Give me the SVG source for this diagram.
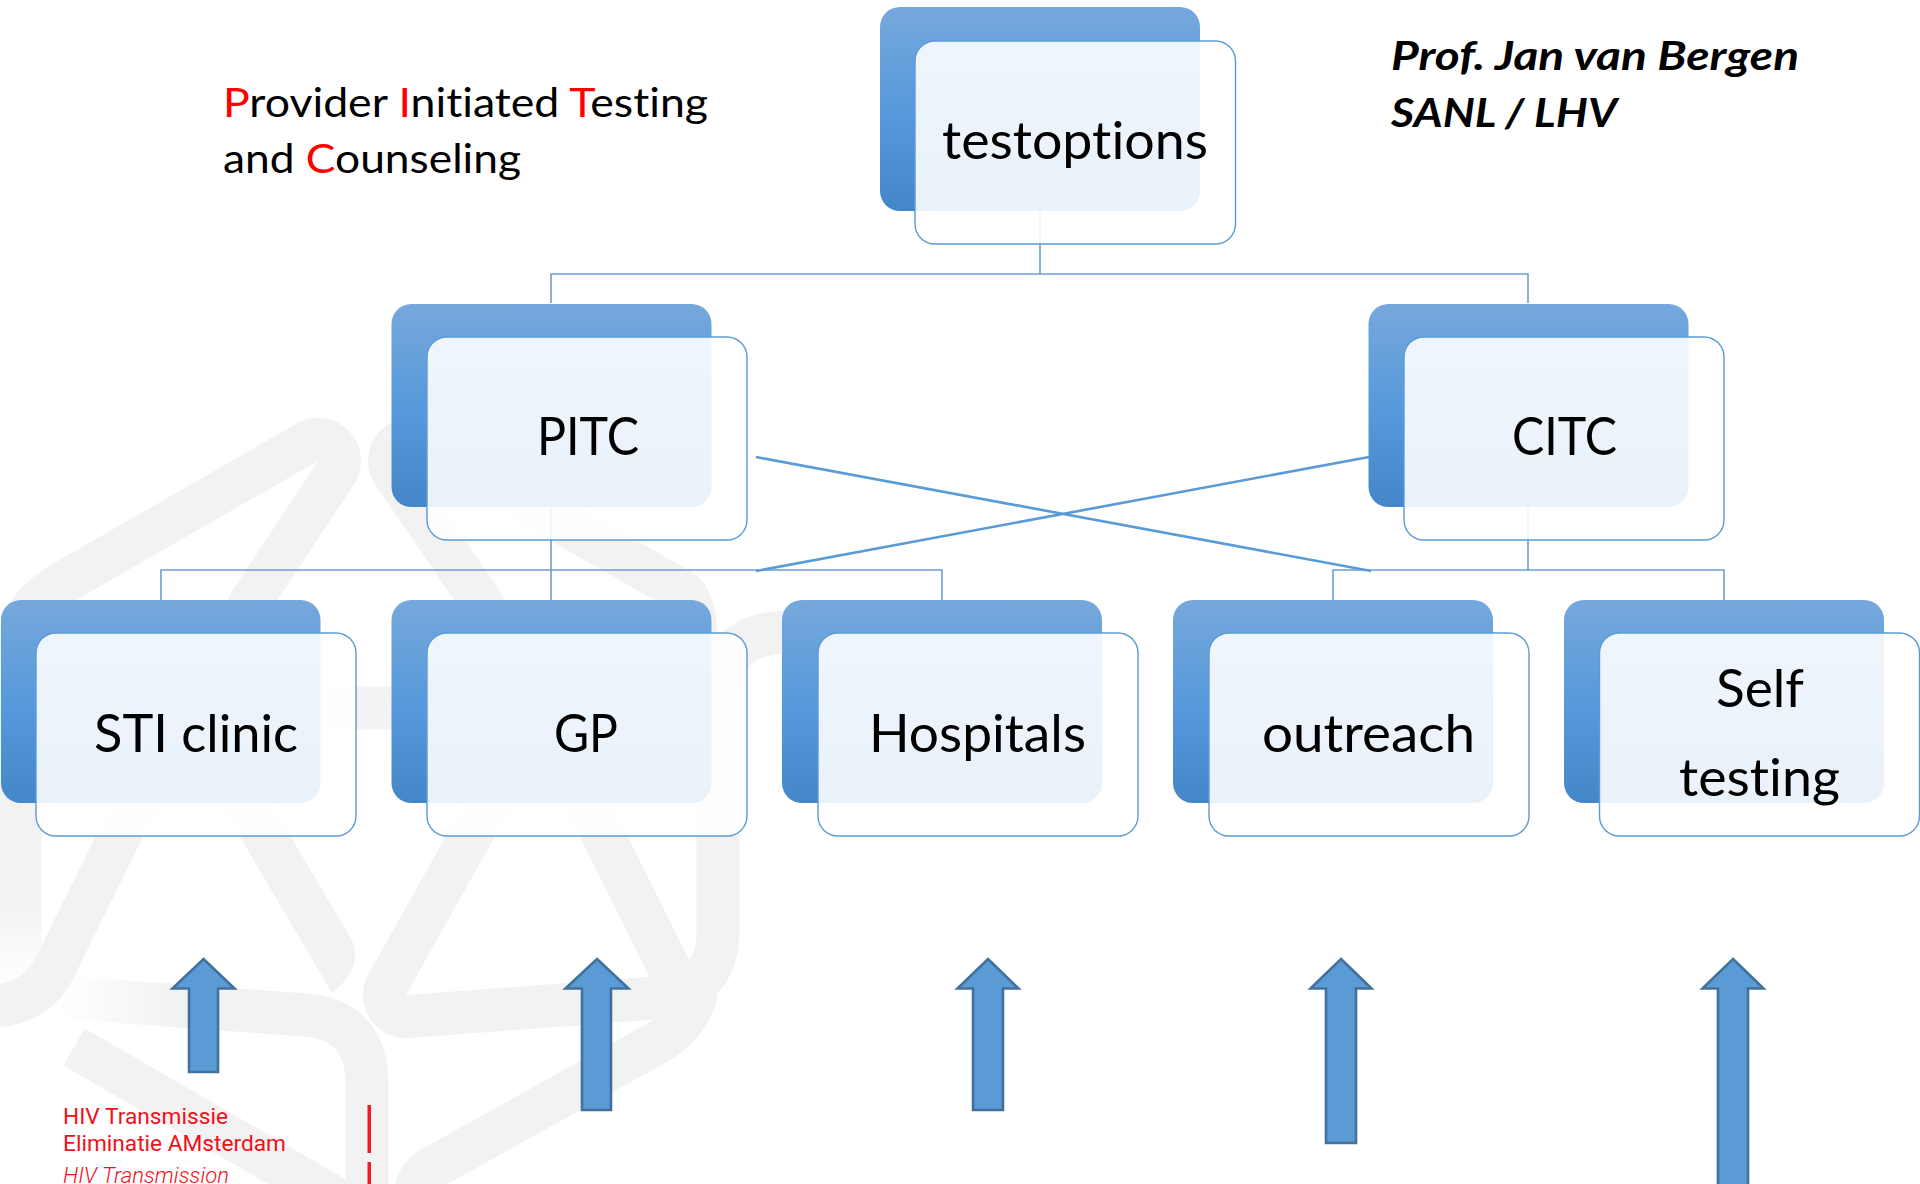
<svg xmlns="http://www.w3.org/2000/svg" width="1920" height="1184" viewBox="0 0 1920 1184">
<style>
.wm{fill:none;stroke:#f2f2f2;stroke-width:43;stroke-linecap:butt;stroke-linejoin:round}
.wmf{fill:#f2f2f2}
.tree{fill:none;stroke:#6d9fd2;stroke-width:1.6}
.cross{fill:none;stroke:#5b9bd5;stroke-width:2.6}
.back{fill:url(#g)}
.front{fill:#fff;fill-opacity:.89;stroke:#5b9bd5;stroke-width:1.4}
text{font-variant-ligatures:none}
.lbl{font-family:Lato,"Liberation Sans",sans-serif;font-size:53px;fill:#000}
.note{font-family:Lato,"Liberation Sans",sans-serif;font-size:40px;fill:#000}
.prof{font-family:Lato,"Liberation Sans",sans-serif;font-size:41px;font-weight:700;font-style:italic;fill:#000}
.logo{font-family:Roboto,"Liberation Sans",sans-serif;font-size:21.5px;fill:#f0101a}
.r{fill:#f00}
.arrow{fill:#5b9bd5;stroke:#41719c;stroke-width:2.6}
</style>
<defs>
<linearGradient id="g" x1="0" y1="0" x2="0" y2="1">
<stop offset="0" stop-color="#76a8dc"/>
<stop offset=".55" stop-color="#5598db"/>
<stop offset="1" stop-color="#4487c8"/>
</linearGradient>
<linearGradient id="fadeDown" gradientUnits="userSpaceOnUse" x1="0" y1="900" x2="0" y2="985">
<stop offset="0" stop-color="#f2f2f2"/>
<stop offset="1" stop-color="#fff"/>
</linearGradient>
<linearGradient id="fadeLeft" gradientUnits="userSpaceOnUse" x1="60" y1="0" x2="180" y2="0">
<stop offset="0" stop-color="#fff"/>
<stop offset="1" stop-color="#f2f2f2"/>
</linearGradient>
</defs>
<g id="watermark">
<path class="wm" d="M416 1195Q416 1178 432 1168L653 1045Q690 1025 697 990"/>
<path class="wm" d="M74 1047L368 1217"/>
<path class="wm" style="stroke:url(#fadeDown)" d="M20 985V640"/>
<path class="wm" style="stroke:url(#fadeLeft)" d="M60 997L180 1006"/>
<path class="wm" d="M180 1006L306 1015Q367 1020 367 1085V1190"/>
<path class="wm" d="M20 642Q20 607 66 581L306 443A21.500 21.500 0 0 1 335 474L252 600L120 835L56 965Q38 1003 -5 1006"/>
<path class="wm" d="M190 708H545"/>
<path class="wmf" d="M172 708L240 837L332 993Q364 968 352 940L291 837L215 708Z"/>
<path class="wm" d="M697 650Q697 600 680 590L423 443A21.500 21.500 0 0 0 394 474L480 600L604 837L680 990"/>
<path class="wm" d="M545 708L470 837L387 985A21.500 21.500 0 0 0 407 1016.500L655 998Q718 992 718 930V700Q718 632 790 632"/>
</g>
<g id="connectors">
<path class="tree" d="M1040 211V274M551 303V274H1528V303"/>
<path class="tree" d="M551 506V600M161 600V570H942V600"/>
<path class="tree" d="M1528 506V570M1333 600V570H1724V600"/>
<path class="cross" d="M756 457L1371 571M756 571L1369 457"/>
</g>
<g id="node-testoptions">
<rect class="back" x="880" y="7" width="320" height="204" rx="20"/>
<rect class="front" x="915" y="41" width="320.500" height="203" rx="20"/>
<text class="lbl" x="942" y="159" textLength="266" lengthAdjust="spacingAndGlyphs">testoptions</text>
</g>
<g id="node-pitc">
<rect class="back" x="391.500" y="304" width="320" height="203" rx="20"/>
<rect class="front" x="427" y="337" width="320" height="203" rx="20"/>
<text class="lbl" x="537" y="455" textLength="102" lengthAdjust="spacingAndGlyphs">PITC</text>
</g>
<g id="node-citc">
<rect class="back" x="1368.500" y="304" width="320" height="203" rx="20"/>
<rect class="front" x="1404" y="337" width="320" height="203" rx="20"/>
<text class="lbl" x="1512" y="455" textLength="105" lengthAdjust="spacingAndGlyphs">CITC</text>
</g>
<g id="node-sti">
<rect class="back" x="1" y="600" width="319.500" height="203" rx="20"/>
<rect class="front" x="36" y="633" width="320" height="203" rx="20"/>
<text class="lbl" x="94" y="752" textLength="204" lengthAdjust="spacingAndGlyphs">STI clinic</text>
</g>
<g id="node-gp">
<rect class="back" x="391.500" y="600" width="320" height="203" rx="20"/>
<rect class="front" x="427" y="633" width="320" height="203" rx="20"/>
<text class="lbl" x="554" y="752" textLength="64" lengthAdjust="spacingAndGlyphs">GP</text>
</g>
<g id="node-hospitals">
<rect class="back" x="782" y="600" width="320" height="203" rx="20"/>
<rect class="front" x="818" y="633" width="320" height="203" rx="20"/>
<text class="lbl" x="869" y="752" textLength="217" lengthAdjust="spacingAndGlyphs">Hospitals</text>
</g>
<g id="node-outreach">
<rect class="back" x="1173" y="600" width="320" height="203" rx="20"/>
<rect class="front" x="1209" y="633" width="320" height="203" rx="20"/>
<text class="lbl" x="1262" y="752" textLength="213" lengthAdjust="spacingAndGlyphs">outreach</text>
</g>
<g id="node-self">
<rect class="back" x="1564" y="600" width="320" height="203" rx="20"/>
<rect class="front" x="1599.500" y="633" width="320" height="203" rx="20"/>
<text class="lbl" x="1716" y="707" textLength="88" lengthAdjust="spacingAndGlyphs">Self</text>
<text class="lbl" x="1679" y="796" textLength="161" lengthAdjust="spacingAndGlyphs">testing</text>
</g>
<g id="arrows">
<path class="arrow" d="M203.500 959L234.500 988.500H218V1072H189V988.500H172.500Z"/>
<path class="arrow" d="M597 959L628.500 988.500H611V1110H582V988.500H565.500Z"/>
<path class="arrow" d="M988 959L1018.500 988.500H1003V1110H973V988.500H957.500Z"/>
<path class="arrow" d="M1341 959L1371.500 988.500H1356V1143H1326V988.500H1310.500Z"/>
<path class="arrow" d="M1733 959L1763.500 988.500H1748V1190H1718V988.500H1702.500Z"/>
</g>
<g id="notes">
<text class="note" x="223" y="117" textLength="485" lengthAdjust="spacingAndGlyphs"><tspan class="r">P</tspan>rovider <tspan class="r">I</tspan>nitiated <tspan class="r">T</tspan>esting</text>
<text class="note" x="223" y="173" textLength="298" lengthAdjust="spacingAndGlyphs">and <tspan class="r">C</tspan>ounseling</text>
<text class="prof" x="1391" y="70" textLength="408" lengthAdjust="spacingAndGlyphs">Prof. Jan van Bergen</text>
<text class="prof" x="1391" y="127" textLength="226" lengthAdjust="spacingAndGlyphs">SANL / LHV</text>
</g>
<g id="logo">
<text class="logo" x="63" y="1124" textLength="165" lengthAdjust="spacingAndGlyphs">HIV Transmissie</text>
<text class="logo" x="63" y="1151" textLength="223" lengthAdjust="spacingAndGlyphs">Eliminatie AMsterdam</text>
<text class="logo" x="63" y="1183" textLength="166" lengthAdjust="spacingAndGlyphs" font-style="italic" font-weight="300">HIV Transmission</text>
<rect x="367.500" y="1105" width="3.500" height="48" fill="#ed1c24"/>
<rect x="367.500" y="1162" width="3.500" height="30" fill="#ed1c24"/>
</g>
</svg>
